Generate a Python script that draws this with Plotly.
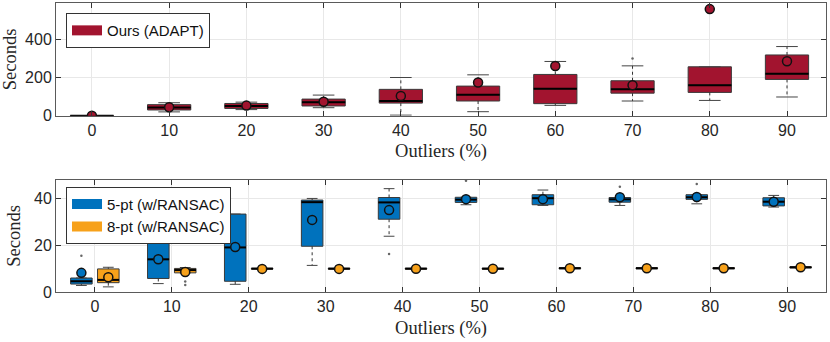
import plotly.graph_objects as go

# ---------------- data ----------------
outliers = [0, 10, 20, 30, 40, 50, 60, 70, 80, 90]
tick_vals = [0, 10, 20, 30, 40, 50, 60, 70, 80, 90]
tick_text = ["0", "10", "20", "30", "40", "50", "60", "70", "80", "90"]

# Ours (ADAPT) - top panel (seconds)
ours_q1 = [0, 30, 38, 51, 66, 77, 63, 118, 122, 190]
ours_med = [0.3, 43, 51, 71, 77, 110, 141, 139, 160, 219]
ours_q3 = [1, 58, 64, 87, 138, 155, 216, 183, 256, 318]
ours_lo = [0, 20, 32, 42, 3, 21, 54, 77, 80, 98]
ours_hi = [1, 68, 71, 108, 200, 214, 284, 261, 256, 362]
ours_mean = [0, 44, 53, 73, 103, 174, 260, 160, 558, 285]
ours_out_x = [70]
ours_out_y = [299]

# 5-pt (w/RANSAC) - bottom panel
five_q1 = [3.4, 5.8, 4.6, 19.6, 31.2, 38.4, 37.4, 38.5, 39.7, 36.9]
five_med = [4.6, 14.0, 19.1, 38.5, 38.4, 39.6, 40.2, 39.7, 40.6, 38.7]
five_q3 = [6.0, 21.7, 33.4, 39.4, 40.5, 40.6, 41.7, 40.5, 41.7, 40.4]
five_lo = [2.8, 3.6, 3.3, 11.4, 23.9, 37.4, 37.1, 37.1, 37.8, 36.4]
five_hi = [6.0, 28.0, 33.4, 40.1, 44.3, 40.6, 43.7, 40.5, 41.7, 41.4]
five_mean = [8.2, 14.0, 19.3, 30.9, 35.1, 39.8, 39.8, 40.6, 40.7, 38.7]
five_out_x = [0, 40, 50, 70, 80]
five_out_y = [15.5, 16.3, 47.7, 45.1, 46.3]

# 8-pt (w/RANSAC) - bottom panel
eight_q1 = [4.0, 8.2, 9.8, 9.8, 9.8, 9.8, 9.9, 9.9, 9.9, 10.3]
eight_med = [5.2, 9.4, 10.0, 10.0, 10.0, 10.0, 10.2, 10.2, 10.2, 10.6]
eight_q3 = [9.9, 10.1, 10.2, 10.2, 10.2, 10.2, 10.4, 10.4, 10.4, 10.8]
eight_lo = [2.2, 8.2, 9.8, 9.8, 9.8, 9.8, 9.9, 9.9, 9.9, 10.3]
eight_hi = [10.6, 10.5, 10.2, 10.2, 10.2, 10.2, 10.4, 10.4, 10.4, 10.8]
eight_mean = [6.3, 8.6, 9.9, 9.9, 10.0, 10.0, 10.2, 10.2, 10.2, 10.6]
eight_out_x = [10, 10]
eight_out_y = [3.0, 4.5]

# ---------------- style ----------------
RED = "#A2142F"
BLUE = "#0072BD"
ORANGE = "#F7A11A"
TXT = "#262626"
SANS = "Liberation Sans, Arial, sans-serif"
SERIF = "Liberation Serif, Times New Roman, serif"

TOP_W = 5.6
BOT_W = 2.8
GROUP_OFF = 1.75


def segs_h(xs, ys, half):
    X, Y = [], []
    for x, y in zip(xs, ys):
        X += [x - half, x + half, None]
        Y += [y, y, None]
    return X, Y


def segs_v(xs, y0s, y1s):
    X, Y = [], []
    for x, a, b in zip(xs, y0s, y1s):
        X += [x, x, None]
        Y += [a, b, None]
    return X, Y


fig = go.Figure()


def add_series(xs, q1, med, q3, lo, hi, mean, color, width, xa, ya, ox, oy):
    # whiskers (dotted)
    wx1, wy1 = segs_v(xs, q3, hi)
    wx2, wy2 = segs_v(xs, q1, lo)
    fig.add_trace(go.Scatter(x=wx1 + wx2, y=wy1 + wy2, mode="lines",
                             line=dict(color="#333333", width=1, dash="dot"),
                             showlegend=False, hoverinfo="skip", xaxis=xa, yaxis=ya))
    # caps
    cx1, cy1 = segs_h(xs, hi, width / 4)
    cx2, cy2 = segs_h(xs, lo, width / 4)
    fig.add_trace(go.Scatter(x=cx1 + cx2, y=cy1 + cy2, mode="lines",
                             line=dict(color="#444444", width=1),
                             showlegend=False, hoverinfo="skip", xaxis=xa, yaxis=ya))
    # boxes
    fig.add_trace(go.Box(x=xs, q1=q1, median=med, q3=q3, lowerfence=q1, upperfence=q3,
                         width=width, fillcolor=color, whiskerwidth=0,
                         line=dict(color="#3a3a3a", width=1), boxpoints=False,
                         showlegend=False, xaxis=xa, yaxis=ya))
    # medians
    mx, my = segs_h(xs, med, width / 2)
    fig.add_trace(go.Scatter(x=mx, y=my, mode="lines",
                             line=dict(color="#000000", width=2),
                             showlegend=False, hoverinfo="skip", xaxis=xa, yaxis=ya))
    # outliers
    if ox:
        fig.add_trace(go.Scatter(x=ox, y=oy, mode="markers",
                                 marker=dict(color="#666666", size=2.5),
                                 showlegend=False, hoverinfo="skip", xaxis=xa, yaxis=ya))
    # means
    fig.add_trace(go.Scatter(x=xs, y=mean, mode="markers",
                             marker=dict(color=color, size=9, line=dict(color="#111111", width=1.5)),
                             showlegend=False, hoverinfo="skip", xaxis=xa, yaxis=ya,
                             cliponaxis=True))


add_series(outliers, ours_q1, ours_med, ours_q3, ours_lo, ours_hi, ours_mean,
           RED, TOP_W, "x", "y", ours_out_x, ours_out_y)

x5 = [o - GROUP_OFF for o in outliers]
x8 = [o + GROUP_OFF for o in outliers]
add_series(x5, five_q1, five_med, five_q3, five_lo, five_hi, five_mean,
           BLUE, BOT_W, "x2", "y2", [o - GROUP_OFF for o in five_out_x], five_out_y)
add_series(x8, eight_q1, eight_med, eight_q3, eight_lo, eight_hi, eight_mean,
           ORANGE, BOT_W, "x2", "y2", [o + GROUP_OFF for o in eight_out_x], eight_out_y)

# legend entries
fig.add_trace(go.Scatter(x=[None], y=[None], mode="lines", name="Ours (ADAPT)",
                         line=dict(color=RED, width=13), legend="legend",
                         xaxis="x", yaxis="y"))
fig.add_trace(go.Scatter(x=[None], y=[None], mode="lines", name="5-pt (w/RANSAC)",
                         line=dict(color=BLUE, width=13), legend="legend2",
                         xaxis="x2", yaxis="y2"))
fig.add_trace(go.Scatter(x=[None], y=[None], mode="lines", name="8-pt (w/RANSAC)",
                         line=dict(color=ORANGE, width=13), legend="legend2",
                         xaxis="x2", yaxis="y2"))

axis_common = dict(
    showline=True, linecolor="#5a5a5a", linewidth=1, mirror="ticks",
    ticks="inside", ticklen=5, tickcolor="#333333", tickwidth=1,
    showgrid=True, gridcolor="#e8e8e8", gridwidth=1, zeroline=False,
    tickfont=dict(family=SANS, size=16, color=TXT), automargin=False,
)

xtitle = dict(text="Outliers (%)", font=dict(family=SERIF, size=18.5, color=TXT), standoff=6)
ytitle = dict(text="Seconds", font=dict(family=SERIF, size=18.5, color=TXT), standoff=8)

legend_common = dict(
    xanchor="left", yanchor="top", bgcolor="white", bordercolor="#333333",
    borderwidth=1, font=dict(family=SANS, size=15, color="#111111"),
    tracegroupgap=0, itemwidth=30,
)

fig.update_layout(
    width=830, height=342,
    margin=dict(l=56, r=4, t=3, b=50, autoexpand=False),
    paper_bgcolor="white", plot_bgcolor="white",
    xaxis=dict(axis_common, domain=[0, 1], anchor="y", range=[-4.65, 95.05],
               tickvals=tick_vals, ticktext=tick_text, title=xtitle),
    yaxis=dict(axis_common, domain=[0.61, 1], anchor="x", range=[0, 590],
               tickvals=[0, 200, 400], title=ytitle),
    xaxis2=dict(axis_common, domain=[0, 1], anchor="y2", range=[-5.05, 95.05],
                tickvals=tick_vals, ticktext=tick_text, title=xtitle),
    yaxis2=dict(axis_common, domain=[0, 0.3875], anchor="x2", range=[0, 48],
                tickvals=[0, 20, 40], title=ytitle),
    legend=dict(legend_common, x=0.013, y=0.965),
    legend2=dict(legend_common, x=0.013, y=0.364),
    showlegend=True,
)

fig.write_html("out.html", config={"displayModeBar": False},
               post_script="document.body.style.margin='0px';")
